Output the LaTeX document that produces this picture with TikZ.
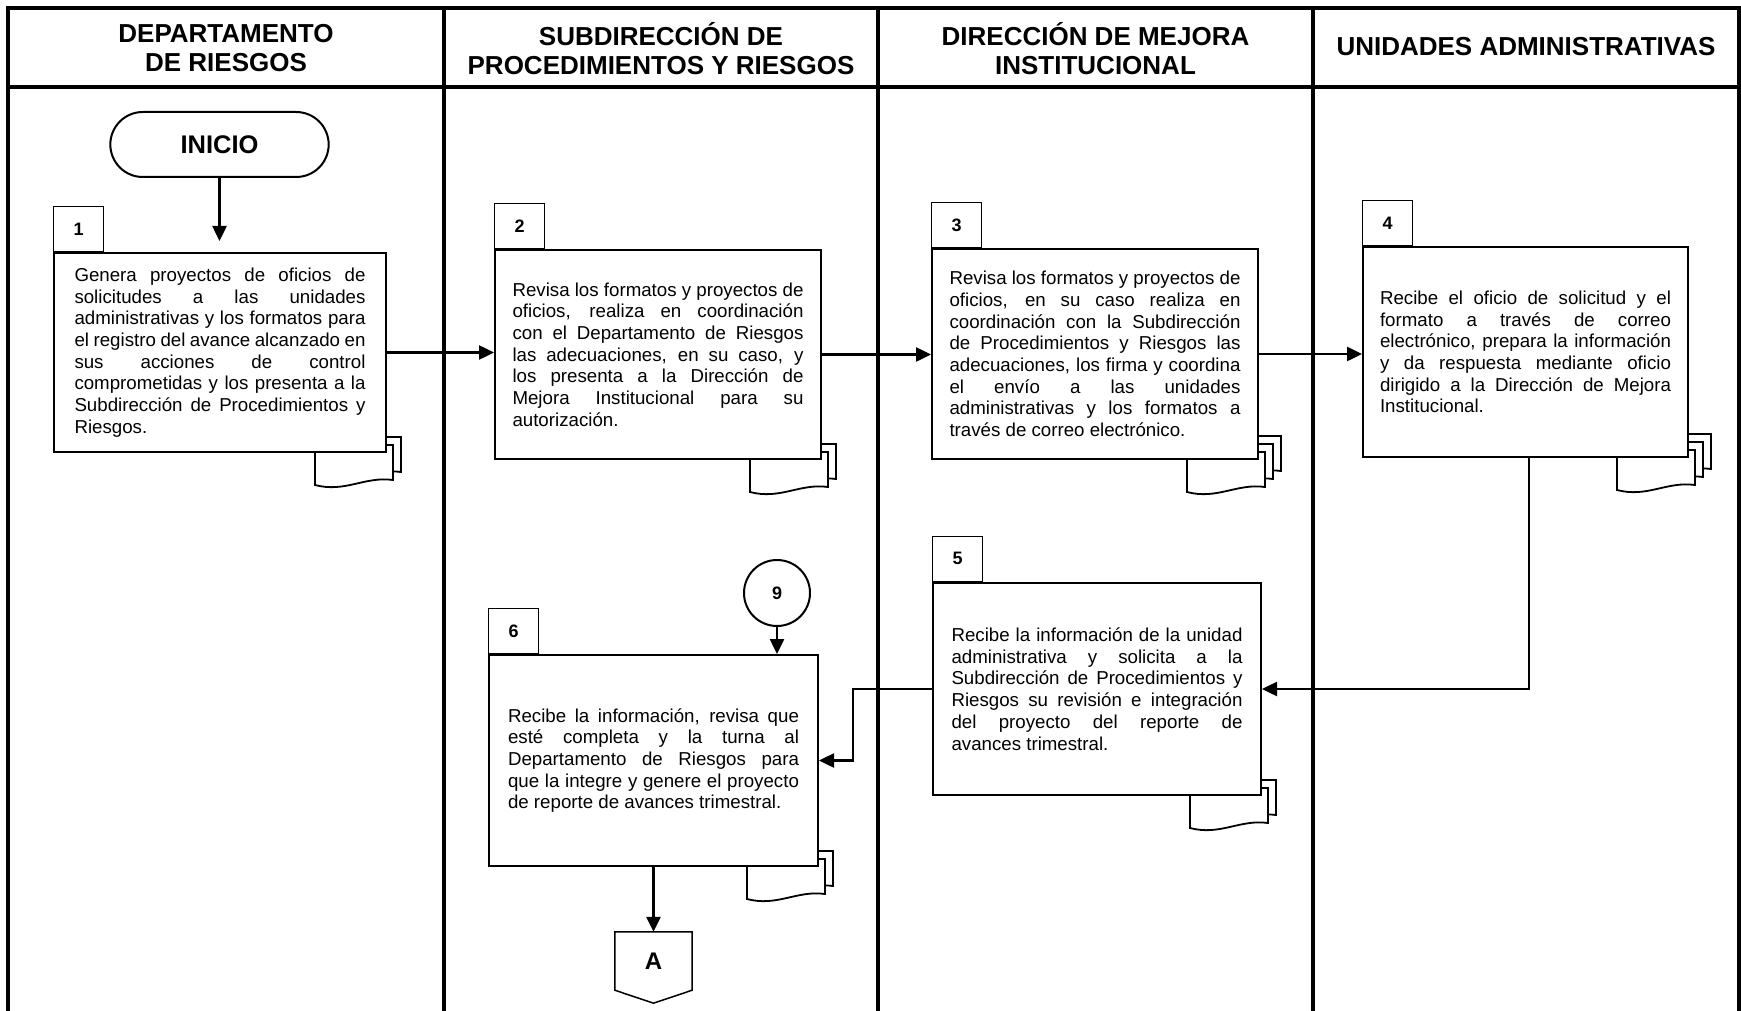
\documentclass[tikz,border=0pt]{standalone}
\usepackage{fontspec}
\setmainfont{Liberation Sans}
\usetikzlibrary{shapes.misc,arrows.meta,backgrounds,calc}
\tikzset{
  frameline/.style={line width=3.2pt},
  hdr/.style={font=\bfseries\fontsize{26pt}{29pt}\selectfont, align=center, inner sep=0pt},
  stepbox/.style={draw, fill=white, line width=2pt, inner sep=0pt, text width=291pt, align=justify,
     font=\fontsize{18.7pt}{21.7pt}\selectfont},
  tabbox/.style={draw, fill=white, line width=1.3pt, minimum width=50pt, minimum height=45pt,
     inner sep=0pt, anchor=south west, font=\bfseries\fontsize{18pt}{18pt}\selectfont},
  conn/.style={line width=2.5pt, -{Triangle[length=15pt,width=14pt]}},
  docline/.style={line width=1.8pt, fill=white, line join=miter},
}
\newcommand\docstack[2]{%
  \begin{scope}[shift={(#1.south east)}]
  \foreach \o in {#2} {
    \draw[docline] (-72+\o,-8-\o) -- (-72+\o,32-\o) .. controls (-42+\o,40-\o) and (-22+\o,23-\o) .. (6+\o,27-\o) -- (6+\o,-8-\o) -- cycle;
  }
  \end{scope}}
\begin{document}
\begin{tikzpicture}[x=1pt,y=-1pt]
\useasboundingbox (0,0) rectangle (1741,1011);
% frame
\draw[frameline] (8,1011) -- (8,8) -- (1739,8) -- (1739,1011);
\draw[frameline] (8,87) -- (1739,87);
\foreach \xx in {444,878,1313} {\draw[frameline] (\xx,8) -- (\xx,1011);}
% headers
\node[hdr] (h1) at (226,48.5) {DEPARTAMENTO\\DE RIESGOS};
\node[hdr] (h2) at (661,48.5) {SUBDIRECCIÓN DE\\PROCEDIMIENTOS Y RIESGOS};
\node[hdr] (h3) at (1095.5,48.5) {DIRECCIÓN DE MEJORA\\INSTITUCIONAL};
\node[hdr] (h4) at (1526,47) {UNIDADES ADMINISTRATIVAS};
% start
\node[draw, rounded rectangle, line width=2pt, minimum width=225pt, minimum height=65pt,
  font=\bfseries\fontsize{25.5pt}{25.5pt}\selectfont] (inicio) at (219.5,144.5) {INICIO};
% boxes
\node[stepbox, minimum width=332pt, minimum height=199pt] (b1) at (220,352.5) {Genera proyectos de oficios de\linebreak solicitudes a las unidades\linebreak administrativas y los formatos para\linebreak el registro del avance alcanzado en\linebreak sus acciones de control\linebreak comprometidas y los presenta a la\linebreak Subdirección de Procedimientos y\linebreak Riesgos.};
\node[stepbox, minimum width=326pt, minimum height=209pt] (b2) at (658,354.5) {Revisa los formatos y proyectos de\linebreak oficios, realiza en coordinación\linebreak con el Departamento de Riesgos\linebreak las adecuaciones, en su caso, y\linebreak los presenta a la Dirección de\linebreak Mejora Institucional para su\linebreak autorización.};
\node[stepbox, minimum width=326pt, minimum height=210pt] (b3) at (1095,354) {Revisa los formatos y proyectos de\linebreak oficios, en su caso realiza en\linebreak coordinación con la Subdirección\linebreak de Procedimientos y Riesgos las\linebreak adecuaciones, los firma y coordina\linebreak el envío a las unidades\linebreak administrativas y los formatos a\linebreak través de correo electrónico.};
\node[stepbox, minimum width=325pt, minimum height=210pt] (b4) at (1525.5,352) {Recibe el oficio de solicitud y el\linebreak formato a través de correo\linebreak electrónico, prepara la información\linebreak y da respuesta mediante oficio\linebreak dirigido a la Dirección de Mejora\linebreak Institucional.};
\node[stepbox, minimum width=328pt, minimum height=212pt] (b5) at (1097,689) {Recibe la información de la unidad\linebreak administrativa y solicita a la\linebreak Subdirección de Procedimientos y\linebreak Riesgos su revisión e integración\linebreak del proyecto del reporte de\linebreak avances trimestral.};
\node[stepbox, minimum width=329pt, minimum height=211pt] (b6) at (653.5,760.5) {Recibe la información, revisa que\linebreak esté completa y la turna al\linebreak Departamento de Riesgos para\linebreak que la integre y genere el proyecto\linebreak de reporte de avances trimestral.};
% tabs
\node[tabbox] (t1) at (b1.north west) {1};
\node[tabbox] (t2) at (b2.north west) {2};
\node[tabbox] (t3) at (b3.north west) {3};
\node[tabbox] (t4) at (b4.north west) {4};
\node[tabbox] (t5) at (b5.north west) {5};
\node[tabbox] (t6) at (b6.north west) {6};
% document icons
\begin{pgfonlayer}{background}
\docstack{b1}{8,0}
\docstack{b2}{8,0}
\docstack{b3}{16,8,0}
\docstack{b4}{16,8,0}
\docstack{b5}{8,0}
\docstack{b6}{8,0}
\end{pgfonlayer}
% connector 9 and A
\node[draw, circle, line width=2pt, minimum size=66pt, inner sep=0pt,
  font=\bfseries\fontsize{18pt}{18pt}\selectfont] (c9) at (777,593) {9};
\node[minimum width=77pt, minimum height=58pt, inner sep=0pt,
  font=\bfseries\fontsize{24pt}{24pt}\selectfont] (conA) at (653.5,961) {A};
\draw[line width=1.5pt] (conA.north west) -- (conA.north east) -- (conA.south east)
  -- ($(conA.south)+(0,13)$) -- (conA.south west) -- cycle;
% connectors
\draw[conn, shorten >=11pt] (inicio.south) -- (inicio.south |- b1.north);
\draw[conn] (b1.east) -- (b1.east -| b2.west);
\draw[conn] (b2.east) -- (b2.east -| b3.west);
\draw[conn] (b3.east) -- (b3.east -| b4.west);
\draw[conn] ([xshift=3.5pt]b4.south) |- (b5.east);
\draw[conn] (b5.west) -- ++(-79,0) |- (b6.east);
\draw[conn] (c9.south) -- (c9.south |- b6.north);
\draw[conn] (b6.south) -- (conA.north);
\end{tikzpicture}
\end{document}
